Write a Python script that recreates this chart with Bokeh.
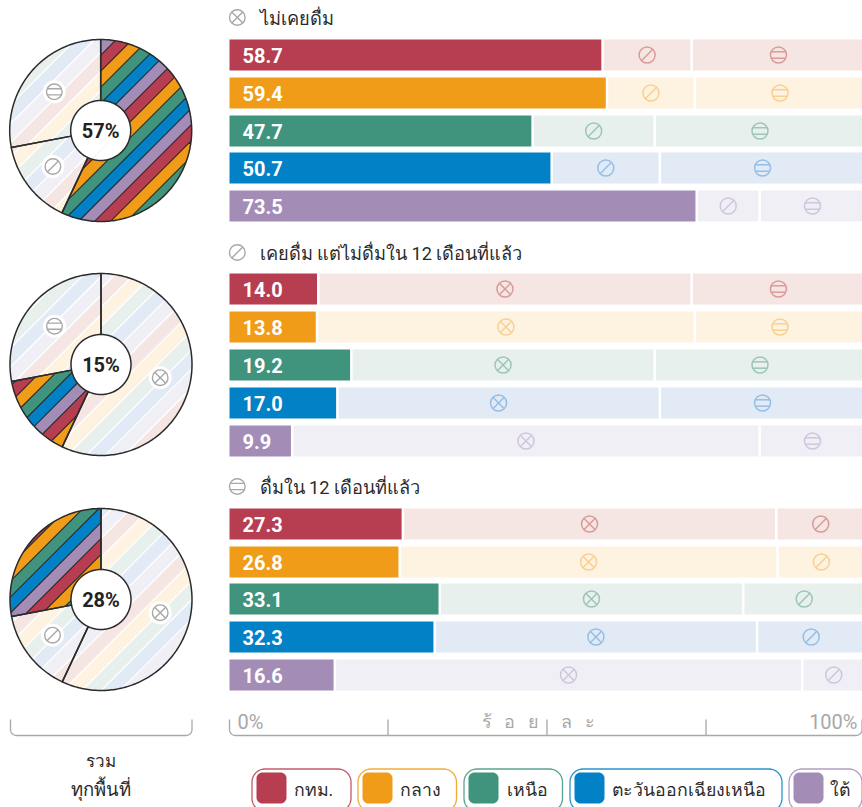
import math
from bokeh.embed import file_html
from bokeh.resources import INLINE
from bokeh.plotting import figure
from bokeh.models import Range1d
from bokeh.core.properties import value

# ---------- data ----------
regions = ["กทม.", "กลาง", "เหนือ", "ตะวันออกเฉียงเหนือ", "ใต้"]
never = [58.7, 59.4, 47.7, 50.7, 73.5]
former = [14.0, 13.8, 19.2, 17.0, 9.9]
current = [27.3, 26.8, 33.1, 32.3, 16.6]
pie_totals = [57, 15, 28]
pie_labels = ["57%", "15%", "28%"]
section_titles = ["ไม่เคยดื่ม", "เคยดื่ม แต่ไม่ดื่มใน 12 เดือนที่แล้ว", "ดื่มใน 12 เดือนที่แล้ว"]
axis_ticks = [25, 50, 75]
colors = ["#b73e50", "#f09c19", "#40937c", "#0281c6", "#a38db7"]
pale = ["#f5e6e3", "#fef2e1", "#e7f0ec", "#e2eaf6", "#f1eff6"]
icon_cols = ["#d99b99", "#f9cf92", "#9cc6b7", "#96bee4", "#cfc5dd"]

FONT = "Roboto"
INK = "#2b2b2b"
GRAY = "#a8a8a8"
X0, K = 227.5, 6.36
def P(x):
    return (x - X0) / K

p = figure(width=862, height=807, output_backend="svg", toolbar_location=None,
           x_range=Range1d(P(0), P(862)), y_range=Range1d(808, 1),
           x_axis_location=None, y_axis_location=None, min_border=0,
           outline_line_color=None, background_fill_color="white", border_fill_color="white")
p.grid.visible = False

def icon(kind, x, y, col, r=8.0, lw=1.4):
    p.scatter([x], [y], size=2 * r, marker="circle", fill_alpha=0, line_color=col, line_width=lw)
    if kind == "x":
        d = r * 0.707
        segs = [(-d, -d, d, d), (-d, d, d, -d)]
    elif kind == "s":
        d = r * 0.707
        segs = [(-d, d, d, -d)]
    else:
        h = r * 0.4
        c = math.sqrt(r * r - h * h)
        segs = [(-c, -h, c, -h), (-c, h, c, h)]
    for a, b, c2, e in segs:
        p.line([x + a / K, x + c2 / K], [y + b, y + e], line_color=col, line_width=lw)

# ---------- pies ----------
CX = [100.2, 100.5, 100.5]
CY = [131.0, 365.0, 600.0]
R, RI = 91.0, 30.0
SOLID_PERIOD = 16.0
PALE_PERIOD = 19.0
# position of the red/orange stripe edge, per pie and slice
solid_phase = [-59.3, -53.0, -45.0]
pale_phase = [[0, -64, -59], [-57, 0, -50], [-42, -47, 0]]

def sector(cx, cy, a0, a1):
    pts = []
    n = max(2, int((a1 - a0) / 1.0))
    for i in range(n + 1):
        t = math.radians(a0 + (a1 - a0) * i / n)
        pts.append((cx + R * math.sin(t), cy - R * math.cos(t)))
    for i in range(n + 1):
        t = math.radians(a1 - (a1 - a0) * i / n)
        pts.append((cx + RI * math.sin(t), cy - RI * math.cos(t)))
    return pts

def clip(pts, f):
    out = []
    for i in range(len(pts)):
        a, b = pts[i - 1], pts[i]
        fa, fb = f(a), f(b)
        if (fa >= 0) != (fb >= 0):
            s = fa / (fa - fb)
            out.append((a[0] + s * (b[0] - a[0]), a[1] + s * (b[1] - a[1])))
        if fb >= 0:
            out.append(b)
    return out

def stripes(pts, cx, cy, phase, period, cols, gap):
    xs, ys, fills = [], [], []
    for k in range(-20, 20):
        lo = phase + (k - 1) * period
        hi = lo + period
        poly = clip(pts, lambda q: (q[0] - cx + q[1] - cy) - (lo + gap))
        if poly:
            poly = clip(poly, lambda q: (hi - gap) - (q[0] - cx + q[1] - cy))
        if len(poly) >= 3:
            xs.append([P(q[0]) for q in poly])
            ys.append([q[1] for q in poly])
            fills.append(cols[k % 5])
    return xs, ys, fills

pie_icons = [
    [("=", 53.8, 92.3), ("s", 52.4, 167.0)],
    [("x", 159.7, 378.2), ("=", 54.0, 326.7)],
    [("x", 159.7, 613.2), ("s", 52.0, 635.7)],
]
order = [0, 1, 2]
bounds = []
c = 0
for t in pie_totals:
    bounds.append((c * 3.6, (c + t) * 3.6))
    c += t

for i in range(3):
    cx, cy = CX[i], CY[i]
    for j in order:
        a0, a1 = bounds[j]
        pts = sector(cx, cy, a0, a1)
        if j == i:
            p.patch([P(q[0]) for q in pts], [q[1] for q in pts], fill_color=INK, line_color=None)
            xs, ys, f = stripes(pts, cx, cy, solid_phase[i], SOLID_PERIOD, colors, 0.8)
        else:
            xs, ys, f = stripes(pts, cx, cy, pale_phase[i][j], PALE_PERIOD, pale, 0.9)
        p.patches(xs, ys, fill_color=f, line_color=None)
    for j in order:
        a0, a1 = bounds[j]
        pts = sector(cx, cy, a0, a1)
        p.patch([P(q[0]) for q in pts], [q[1] for q in pts], fill_alpha=0,
                line_color=INK, line_width=1.5, line_join="round")
    for kind, ix, iy in pie_icons[i]:
        p.scatter([P(ix)], [iy], size=23, marker="circle", fill_color="white", line_color=None)
        icon(kind, P(ix), iy, GRAY, r=7.8, lw=1.4)
    p.text([P(cx)], [cy], text=[pie_labels[i]], text_font=value(FONT), text_font_style="bold",
           text_font_size="20px", text_color="#222222", text_align="center", text_baseline="middle")

# ---------- bars ----------
tops = [[40, 78, 116, 153, 191], [274, 312, 350, 388, 426], [509, 547, 584, 622, 660]]
H = 31
head_y = [18, 253, 487]
series = [never, former, current]
kinds = ["x", "s", "="]
GAP = 2.5 / K
for s in range(3):
    others = [o for o in range(3) if o != s]
    icon(kinds[s], P(236.8), head_y[s], GRAY, r=7.8, lw=1.4)
    p.text([P(259)], [head_y[s] + 0.5], text=[section_titles[s]], text_font=value(FONT), text_font_size="18.2px",
           text_color="#2b2b2b", text_align="left", text_baseline="middle")
    for r in range(5):
        t = tops[s][r]
        v = series[s][r]
        p.quad(left=[P(229)], right=[v], top=[t], bottom=[t + H], fill_color=colors[r], line_color=None)
        p.text([P(242)], [t + H / 2 + 0.5], text=[f"{v:.1f}"], text_font=value(FONT), text_font_style="bold",
               text_font_size="20px", text_color="white", text_align="left", text_baseline="middle")
        c = v
        for o in others:
            w = series[o][r]
            p.quad(left=[c + GAP], right=[c + w], top=[t], bottom=[t + H], fill_color=pale[r], line_color=None)
            icon(kinds[o], c + GAP / 2 + w / 2, t + H / 2, icon_cols[r], r=8.0, lw=1.5)
            c += w

# ---------- bottom brackets ----------
def bracket(x0, x1, y0=720.0, y1=736.0, r=6.0):
    xs, ys = [x0], [y0]
    for i in range(9):
        t = math.radians(90 * i / 8)
        xs.append(x0 + r - r * math.cos(t)); ys.append(y1 - r + r * math.sin(t))
    for i in range(9):
        t = math.radians(90 * i / 8)
        xs.append(x1 - r + r * math.sin(t)); ys.append(y1 - r + r * math.cos(t))
    xs.append(x1); ys.append(y0)
    p.line([P(x) for x in xs], ys, line_color=GRAY, line_width=1.3)

bracket(10, 191.5)
bracket(229, 861.5)
tick_shift = 1.0 / K
p.segment(x0=[t + tick_shift for t in axis_ticks], x1=[t + tick_shift for t in axis_ticks],
          y0=[720] * 3, y1=[736] * 3, line_color=GRAY, line_width=1.3)
p.text([P(237)], [722], text=["0%"], text_font=value(FONT), text_font_size="20px", text_color=GRAY,
       text_align="left", text_baseline="middle")
p.text([P(857)], [722], text=["100%"], text_font=value(FONT), text_font_size="20px", text_color=GRAY,
       text_align="right", text_baseline="middle")
p.text([P(481)], [722], text=["ร้\u2002\u2009อ\u2002\u2009ย\u2002\u2009\u2002ล\u2002\u2009ะ"], text_font=value(FONT), text_font_size="18px", text_color=GRAY,
       text_align="left", text_baseline="middle")
p.text([P(100.5)], [761], text=["รวม"], text_font=value(FONT), text_font_size="17px", text_color=INK,
       text_align="center", text_baseline="middle")
p.text([P(100.5)], [790], text=["ทุกพื้นที่"], text_font=value(FONT), text_font_size="18.5px", text_color=INK,
       text_align="center", text_baseline="middle")

# ---------- legend ----------
def rrect(x0, y0, x1, y1, r):
    xs, ys = [], []
    for (cx, cy, a) in [(x1 - r, y0 + r, -90), (x1 - r, y1 - r, 0), (x0 + r, y1 - r, 90), (x0 + r, y0 + r, 180)]:
        for i in range(9):
            t = math.radians(a + 90 * i / 8)
            xs.append(P(cx + r * math.cos(t))); ys.append(cy + r * math.sin(t))
    return xs, ys

pill_l = [251.5, 357.5, 463.5, 569.5, 788.5]
pill_r = [350.5, 456, 562, 781.5, 861.5]
text_x = [293, 399, 506, 611, 829]
for i in range(5):
    xs, ys = rrect(pill_l[i], 769.5, pill_r[i], 812, 13)
    p.patch(xs, ys, fill_color="white", line_color=colors[i], line_width=1.3, line_alpha=0.85)
    xs, ys = rrect(pill_l[i] + 4.5, 773, pill_l[i] + 34.5, 804, 6)
    p.patch(xs, ys, fill_color=colors[i], line_color=None)
    p.text([P(text_x[i])], [790], text=[regions[i]], text_font=value(FONT), text_font_size="17.7px",
           text_color=INK, text_align="left", text_baseline="middle")

open("out.html", "w").write(file_html(p, INLINE))
